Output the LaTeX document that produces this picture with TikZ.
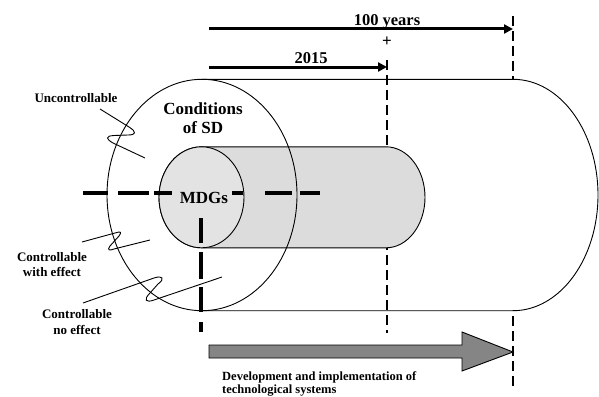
\documentclass[tikz,border=0pt]{standalone}
\usepackage{fontspec}
\setmainfont{Liberation Serif}
\usetikzlibrary{arrows.meta}
\definecolor{bodygray}{HTML}{DCDCDC}
\definecolor{facegray}{HTML}{E3E3E3}
\definecolor{arrowgray}{HTML}{858585}
\begin{document}
\begin{tikzpicture}[x=1pt,y=-1pt,
  outline/.style={line width=0.9pt},
  thickdash/.style={line width=3.2pt},
  thindash/.style={line width=2.6pt, dash pattern=on 10pt off 5pt},
  timeline/.style={line width=3pt, -{Triangle[length=9pt,width=9pt]}},
  biglbl/.style={font=\bfseries\fontsize{17}{19}\selectfont, align=center, inner sep=0pt},
  yearlbl/.style={font=\bfseries\fontsize{16.5}{19}\selectfont, inner sep=0pt},
  lbl/.style={font=\bfseries\fontsize{13}{15.5}\selectfont, align=center, inner sep=0pt},
  botlbl/.style={font=\bfseries\fontsize{12.5}{14}\selectfont, inner sep=0pt, anchor=base west},
  squiggle/.style={line width=0.9pt}
]
\useasboundingbox (0,0) rectangle (599,396);

% far-future dashed marker (hidden behind big cylinder)
\coordinate (f1) at (513,16);
\coordinate (f2) at (513,386);
\draw[thindash] (f1) -- (f2);

% big cylinder
\coordinate (bigtopL) at (202,79.3);
\coordinate (bigtopR) at (513,79.3);
\coordinate (bigbotL) at (202,310.7);
\fill[white] (bigtopL) -- (bigtopR)
  arc[start angle=-90, end angle=90, x radius=85, y radius=115.7] -- (bigbotL) -- cycle;
\draw[outline] (bigtopL) -- (bigtopR)
  arc[start angle=-90, end angle=90, x radius=85, y radius=115.7] -- (bigbotL);

% 2015 dashed marker
\coordinate (d1) at (387,60);
\coordinate (d2) at (387,333);
\draw[thindash] (d1) -- (d2);

% small cylinder (MDGs)
\coordinate (smtopL) at (201.5,146.8);
\coordinate (smtopR) at (386,146.8);
\coordinate (smbotL) at (201.5,247.8);
\filldraw[outline, fill=bodygray] (smtopL) -- (smtopR)
  arc[start angle=-90, end angle=90, x radius=39, y radius=50.5] -- (smbotL)
  arc[start angle=90, end angle=270, x radius=42.5, y radius=50.5] -- cycle;
\coordinate (smc) at (201.5,197.3);
\filldraw[outline, fill=facegray] (smc) ellipse[x radius=42.5, y radius=50.5];

% big left face (outline only, on top)
\coordinate (bigc) at (202,195);
\draw[outline] (bigc) ellipse[x radius=95, y radius=115.7];

% axes through MDGs
\coordinate (h1) at (83,193);
\coordinate (h2) at (320,193);
\draw[thickdash, dash pattern=on 25pt off 10pt on 31pt off 5pt on 18pt off 60pt on 11pt off 22pt on 27pt off 8pt on 20pt off 50pt] (h1) -- (h2);
\coordinate (v1) at (201,218);
\coordinate (v2) at (201,332);
\draw[thickdash, dash pattern=on 25pt off 9pt on 27pt off 8pt on 25pt off 10pt on 10pt off 50pt] (v1) -- (v2);

% time arrows
\coordinate (a0) at (209,29);
\coordinate (a1) at (513,29);
\draw[timeline] (a0) -- (a1);
\coordinate (b0) at (209,67);
\coordinate (b1) at (387,67);
\draw[timeline] (b0) -- (b1);
\node[yearlbl] (hundred) at (387,22) {100 years};
\node[font=\bfseries\fontsize{17}{19}\selectfont, inner sep=0pt] (plus) at (387,42) {+};
\node[yearlbl] (yr) at (311,58) {2015};

% labels
\node[biglbl] (cond) at (203,118.5) {Conditions\\of SD};
\node[biglbl] (mdg) at (204,198) {MDGs};
\node[lbl] (unc) at (76,98) {Uncontrollable};
\node[lbl] (cwe) at (52,264.5) {Controllable\\with effect};
\node[lbl] (cne) at (77,322) {Controllable\\no effect};

% squiggles
\draw[squiggle] (100,109) -- (129,127) .. controls (137,132) and (136,135) .. (128,135)
  -- (114,135.5) .. controls (105,136) and (106,139) .. (113,143) -- (145,158);
\draw[squiggle] (82,242) -- (115,233) .. controls (121,231) and (122,232) .. (119,236)
  -- (110,246) .. controls (107,250) and (109,251) .. (114,249) -- (150,240);
\draw[squiggle] (83,303) -- (154,278) .. controls (163,275) and (165,279) .. (158,284)
  -- (150,293) .. controls (143,300) and (146,303) .. (154,300) -- (222,277);

% development arrow
\coordinate (g0) at (209,345);
\coordinate (g1) at (462,345);
\coordinate (g2) at (462,332);
\coordinate (gt) at (513,352);
\coordinate (g3) at (462,371);
\coordinate (g4) at (462,358);
\coordinate (g5) at (209,358);
\filldraw[outline, fill=arrowgray] (g0) -- (g1) -- (g2) -- (gt) -- (g3) -- (g4) -- (g5) -- cycle;
\node[botlbl] (dev1) at (222,380) {Development and implementation of};
\node[botlbl] (dev2) at (222,393) {technological systems};
\end{tikzpicture}
\end{document}
